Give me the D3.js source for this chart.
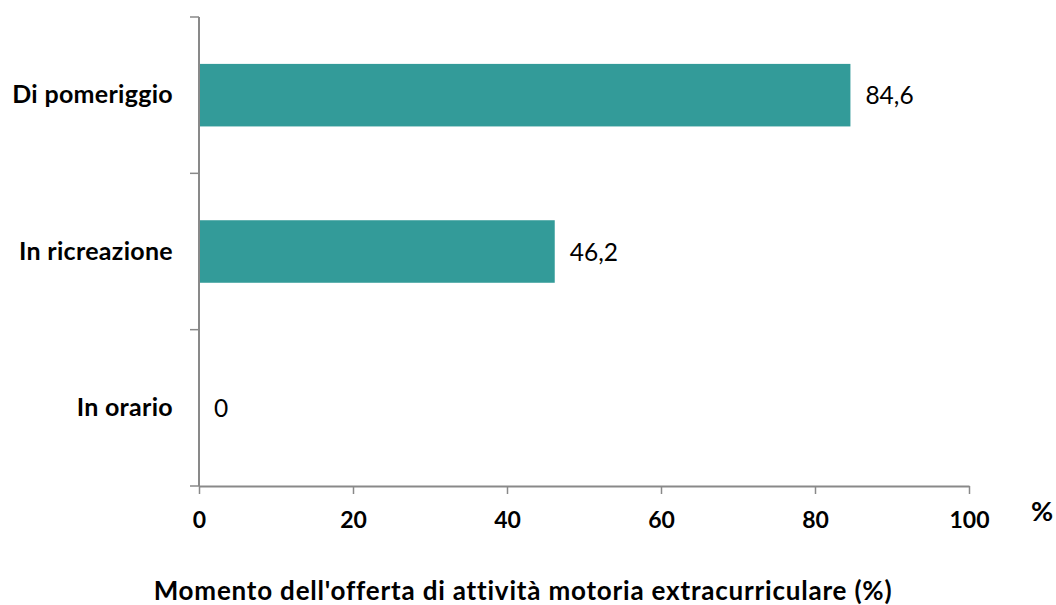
<!DOCTYPE html>
<html>
<head>
<meta charset="utf-8">
<script src="https://cdn.jsdelivr.net/npm/d3@7"></script>
<style>
  body { margin: 0; background: #fff; }
  text { font-family: Lato, "Open Sans", sans-serif; fill: #000; }
</style>
</head>
<body>
<div id="chart"></div>
<script>
// data
const categories = ["Di pomeriggio", "In ricreazione", "In orario"];
const values = [84.6, 46.2, 0];
const xTicks = [0, 20, 40, 60, 80, 100];

const w = 1056, h = 605;
const padLeft = 199, padRight = 969, padTop = 17, padBottom = 486;
const axisColor = "#898989";

const svg = d3.select("#chart").append("svg")
  .attr("width", w).attr("height", h);

const x = d3.scaleLinear().domain([0, 100]).range([padLeft, padRight]);
const y = d3.scaleBand().domain(categories).range([padTop, padBottom])
  .paddingInner(0.6).paddingOuter(0.3);

// bars
svg.selectAll("rect.bar")
  .data(categories)
  .enter().append("rect")
  .attr("class", "bar")
  .attr("x", x(0))
  .attr("y", d => y(d))
  .attr("width", (d, i) => x(values[i]) - x(0))
  .attr("height", y.bandwidth())
  .attr("fill", "#339B99");

// value labels
svg.selectAll("text.val")
  .data(categories)
  .enter().append("text")
  .attr("class", "val")
  .attr("x", (d, i) => x(values[i]) + 15)
  .attr("y", d => y(d) + y.bandwidth() / 2)
  .attr("dy", 9)
  .style("font-size", "24.5px")
  .text((d, i) => String(values[i]).replace(".", ","));

// y axis line + category ticks (between bands)
svg.append("line")
  .attr("x1", padLeft).attr("x2", padLeft)
  .attr("y1", padTop).attr("y2", padBottom)
  .attr("stroke", axisColor).attr("stroke-width", 2);

const step = (padBottom - padTop) / categories.length;
svg.selectAll("line.ytick")
  .data(d3.range(categories.length + 1))
  .enter().append("line")
  .attr("class", "ytick")
  .attr("x1", padLeft - 9).attr("x2", padLeft)
  .attr("y1", i => padTop + i * step).attr("y2", i => padTop + i * step)
  .attr("stroke", axisColor).attr("stroke-width", 1.5);

svg.selectAll("text.cat")
  .data(categories)
  .enter().append("text")
  .attr("class", "cat")
  .attr("x", padLeft - 26)
  .attr("y", d => y(d) + y.bandwidth() / 2)
  .attr("dy", 8)
  .attr("text-anchor", "end")
  .style("font-size", "25px")
  .style("letter-spacing", "0.3px")
  .style("font-weight", "bold")
  .text(d => d);

// x axis
const xAxis = svg.append("g")
  .attr("transform", "translate(0," + padBottom + ")")
  .call(d3.axisBottom(x).tickValues(xTicks).tickSize(8).tickSizeOuter(0));
xAxis.select(".domain").attr("stroke", axisColor).attr("stroke-width", 2);
xAxis.selectAll(".tick line").attr("stroke", axisColor).attr("stroke-width", 1.5);
xAxis.selectAll(".tick text")
  .attr("y", 42).attr("dy", null)
  .style("font-family", "Lato, 'Open Sans', sans-serif")
  .style("font-size", "23px")
  .style("font-weight", "bold")
  .attr("fill", "#000");

svg.append("text")
  .attr("x", 1042).attr("y", 521)
  .attr("text-anchor", "middle")
  .style("font-size", "27px")
  .style("font-weight", "bold")
  .text("%");

// title
svg.append("text")
  .attr("x", 523).attr("y", 600)
  .attr("text-anchor", "middle")
  .style("font-size", "26px")
  .style("letter-spacing", "0.8px")
  .style("font-weight", "bold")
  .text("Momento dell'offerta di attività motoria extracurriculare (%)");
</script>
</body>
</html>
